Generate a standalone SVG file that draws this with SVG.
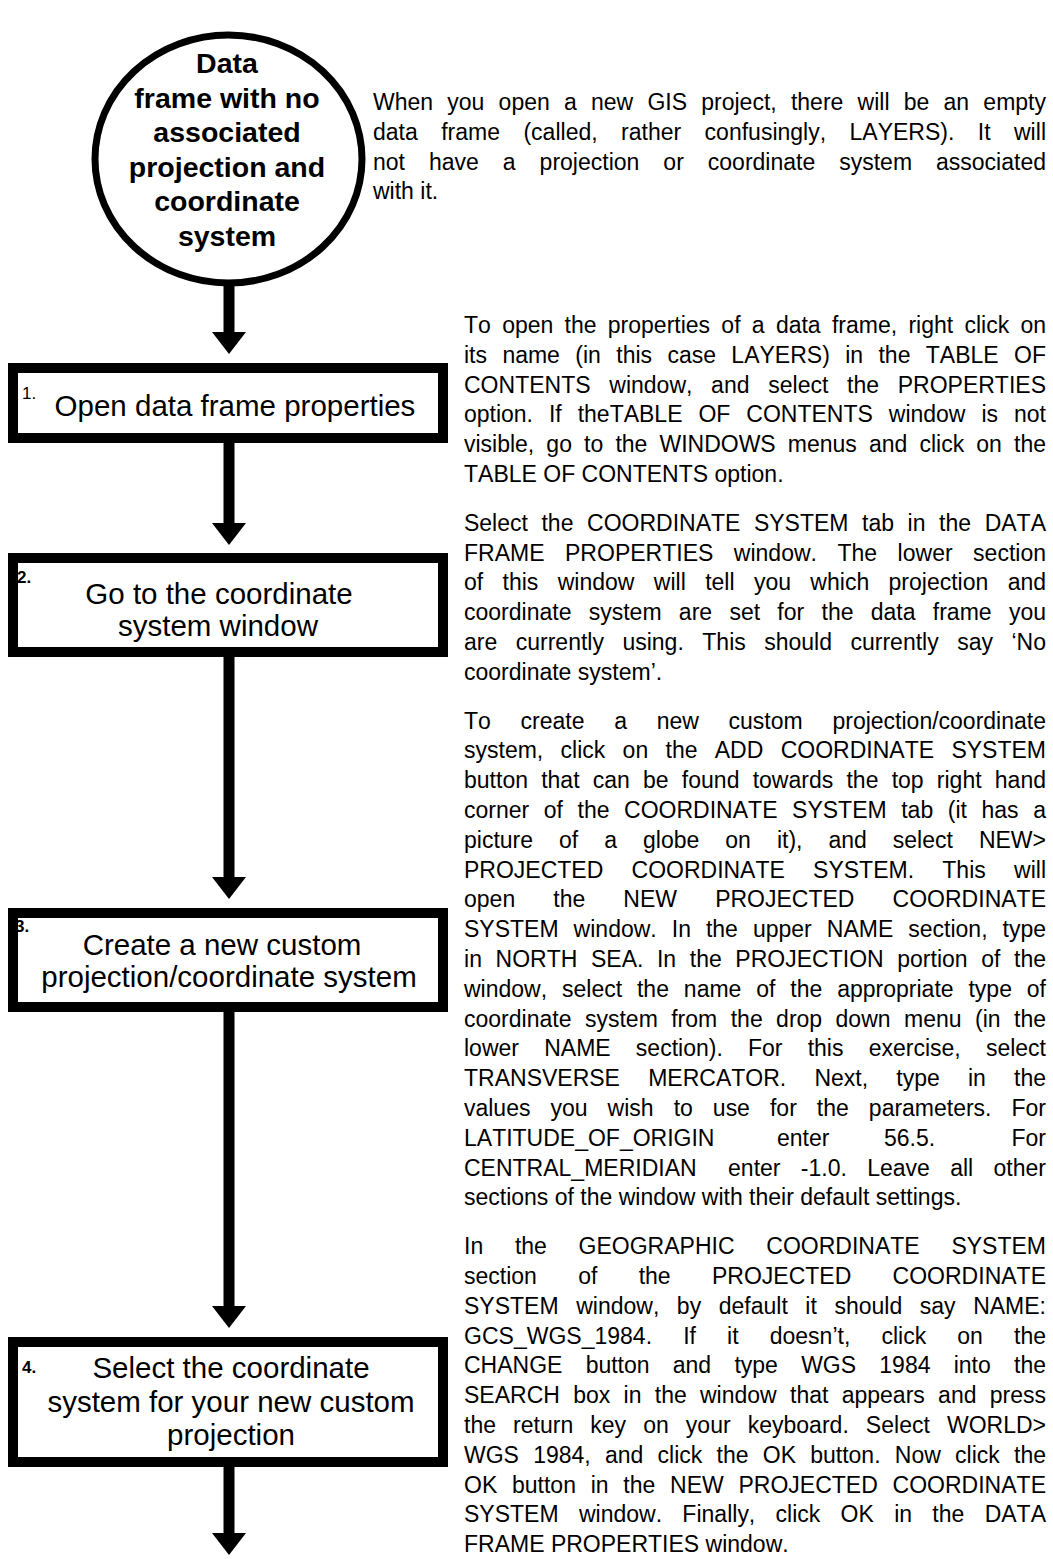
<svg xmlns="http://www.w3.org/2000/svg" width="1053" height="1559" viewBox="0 0 1053 1559">
<style>
text{font-family:"Liberation Sans",Arial,sans-serif;fill:#000;font-kerning:none}
.t{font-size:28.5px;font-weight:bold;text-anchor:middle}
.bx{font-size:29.5px;text-anchor:middle}
.n{font-size:17px;font-weight:bold}
.p{font-size:23px}
.shape{fill:#fff;stroke:#000}
.conn{stroke:#000;stroke-width:11;fill:none}
</style>
<defs>
<marker id="ah" markerUnits="userSpaceOnUse" markerWidth="22" markerHeight="34" viewBox="0 0 22 34" refX="0" refY="17" orient="auto">
<path d="M0,0 L22,17 L0,34 Z" fill="#000"/>
</marker>
</defs>
<rect width="1053" height="1559" fill="#fff"/>
<g id="connectors">
<line class="conn" x1="229" y1="283" x2="229" y2="332" marker-end="url(#ah)"/>
<line class="conn" x1="229" y1="443" x2="229" y2="523" marker-end="url(#ah)"/>
<line class="conn" x1="229" y1="657" x2="229" y2="877" marker-end="url(#ah)"/>
<line class="conn" x1="229" y1="1012" x2="229" y2="1306" marker-end="url(#ah)"/>
<line class="conn" x1="229" y1="1467" x2="229" y2="1533" marker-end="url(#ah)"/>
</g>
<g id="node-start">
<ellipse class="shape" cx="228.5" cy="159" rx="133.5" ry="124" stroke-width="7"/>
<text class="t" x="227" y="73">Data</text>
<text class="t" x="227" y="107.5">frame with no</text>
<text class="t" x="227" y="142">associated</text>
<text class="t" x="227" y="176.5">projection and</text>
<text class="t" x="227" y="211">coordinate</text>
<text class="t" x="227" y="245.5">system</text>
</g>
<g id="node-1">
<rect class="shape" x="13" y="368" width="430" height="70" stroke-width="10"/>
<text x="22" y="399" style="font-size:17px">1.</text>
<text class="bx" x="235" y="416">Open data frame properties</text>
</g>
<g id="node-2">
<rect class="shape" x="13" y="558" width="430" height="94" stroke-width="10"/>
<text class="n" x="17" y="583">2.</text>
<text class="bx" x="219" y="604">Go to the coordinate</text>
<text class="bx" x="218" y="636">system window</text>
</g>
<g id="node-3">
<rect class="shape" x="13" y="913" width="430" height="94" stroke-width="10"/>
<text class="n" x="15" y="932">3.</text>
<text class="bx" x="222" y="955">Create a new custom</text>
<text class="bx" x="229" y="987">projection/coordinate system</text>
</g>
<g id="node-4">
<rect class="shape" x="13" y="1342" width="430" height="120" stroke-width="10"/>
<text class="n" x="22" y="1373">4.</text>
<text class="bx" x="231" y="1378">Select the coordinate</text>
<text class="bx" x="231" y="1412">system for your new custom</text>
<text class="bx" x="231" y="1445">projection</text>
</g>
<g id="notes">
<text class="p" x="373" y="110" word-spacing="7.8" textLength="673" lengthAdjust="spacing">When you open a new GIS project, there will be an empty</text>
<text class="p" x="373" y="139.8" word-spacing="17" textLength="673" lengthAdjust="spacing">data frame (called, rather confusingly, LAYERS). It will</text>
<text class="p" x="373" y="169.6" word-spacing="17.6" textLength="673" lengthAdjust="spacing">not have a projection or coordinate system associated</text>
<text class="p" x="373" y="199.4">with it.</text>

<text class="p" x="464" y="333" word-spacing="4.9" textLength="582" lengthAdjust="spacing">To open the properties of a data frame, right click on</text>
<text class="p" x="464" y="362.8" word-spacing="9" textLength="582" lengthAdjust="spacing">its name (in this case LAYERS) in the TABLE OF</text>
<text class="p" x="464" y="392.6" word-spacing="12.3" textLength="582" lengthAdjust="spacing">CONTENTS window, and select the PROPERTIES</text>
<text class="p" x="464" y="422.4" word-spacing="9.6" textLength="582" lengthAdjust="spacing">option. If theTABLE OF CONTENTS window is not</text>
<text class="p" x="464" y="452.2" word-spacing="5.8" textLength="582" lengthAdjust="spacing">visible, go to the WINDOWS menus and click on the</text>
<text class="p" x="464" y="482">TABLE OF CONTENTS option.</text>

<text class="p" x="464" y="530.8" word-spacing="7.2" textLength="582" lengthAdjust="spacing">Select the COORDINATE SYSTEM tab in the DATA</text>
<text class="p" x="464" y="560.6" word-spacing="14.1" textLength="582" lengthAdjust="spacing">FRAME PROPERTIES window. The lower section</text>
<text class="p" x="464" y="590.4" word-spacing="13" textLength="582" lengthAdjust="spacing">of this window will tell you which projection and</text>
<text class="p" x="464" y="620.2" word-spacing="10.9" textLength="582" lengthAdjust="spacing">coordinate system are set for the data frame you</text>
<text class="p" x="464" y="650" word-spacing="12.1" textLength="582" lengthAdjust="spacing">are currently using. This should currently say ‘No</text>
<text class="p" x="464" y="679.8">coordinate system’.</text>

<text class="p" x="464" y="728.6" word-spacing="23.3" textLength="582" lengthAdjust="spacing">To create a new custom projection/coordinate</text>
<text class="p" x="464" y="758.4" word-spacing="10.9" textLength="582" lengthAdjust="spacing">system, click on the ADD COORDINATE SYSTEM</text>
<text class="p" x="464" y="788.2" word-spacing="6.8" textLength="582" lengthAdjust="spacing">button that can be found towards the top right hand</text>
<text class="p" x="464" y="818" word-spacing="8.2" textLength="582" lengthAdjust="spacing">corner of the COORDINATE SYSTEM tab (it has a</text>
<text class="p" x="464" y="847.8" word-spacing="19.6" textLength="582" lengthAdjust="spacing">picture of a globe on it), and select NEW&gt;</text>
<text class="p" x="464" y="877.6" word-spacing="21.9" textLength="582" lengthAdjust="spacing">PROJECTED COORDINATE SYSTEM. This will</text>
<text class="p" x="464" y="907.4" word-spacing="31.7" textLength="582" lengthAdjust="spacing">open the NEW PROJECTED COORDINATE</text>
<text class="p" x="464" y="937.2" word-spacing="8.6" textLength="582" lengthAdjust="spacing">SYSTEM window. In the upper NAME section, type</text>
<text class="p" x="464" y="967" word-spacing="7.2" textLength="582" lengthAdjust="spacing">in NORTH SEA. In the PROJECTION portion of the</text>
<text class="p" x="464" y="996.8" word-spacing="8.5" textLength="582" lengthAdjust="spacing">window, select the name of the appropriate type of</text>
<text class="p" x="464" y="1026.6" word-spacing="7" textLength="582" lengthAdjust="spacing">coordinate system from the drop down menu (in the</text>
<text class="p" x="464" y="1056.4" word-spacing="18.8" textLength="582" lengthAdjust="spacing">lower NAME section). For this exercise, select</text>
<text class="p" x="464" y="1086.2" word-spacing="21.8" textLength="582" lengthAdjust="spacing">TRANSVERSE MERCATOR. Next, type in the</text>
<text class="p" x="464" y="1116" word-spacing="13.7" textLength="582" lengthAdjust="spacing">values you wish to use for the parameters. For</text>
<text class="p" x="464" y="1145.8">LATITUDE_OF_ORIGIN</text>
<text class="p" x="777" y="1145.8">enter</text>
<text class="p" x="884" y="1145.8">56.5.</text>
<text class="p" x="1046" y="1145.8" text-anchor="end">For</text>
<text class="p" x="464" y="1175.6">CENTRAL_MERIDIAN</text>
<text class="p" x="728" y="1175.6" word-spacing="13.8" textLength="318" lengthAdjust="spacing">enter -1.0. Leave all other</text>
<text class="p" x="464" y="1205.4">sections of the window with their default settings.</text>

<text class="p" x="464" y="1254.2" word-spacing="25.3" textLength="582" lengthAdjust="spacing">In the GEOGRAPHIC COORDINATE SYSTEM</text>
<text class="p" x="464" y="1284" word-spacing="34.9" textLength="582" lengthAdjust="spacing">section of the PROJECTED COORDINATE</text>
<text class="p" x="464" y="1313.8" word-spacing="11.2" textLength="582" lengthAdjust="spacing">SYSTEM window, by default it should say NAME:</text>
<text class="p" x="464" y="1343.6" word-spacing="24.7" textLength="582" lengthAdjust="spacing">GCS_WGS_1984. If it doesn’t, click on the</text>
<text class="p" x="464" y="1373.4" word-spacing="16.9" textLength="582" lengthAdjust="spacing">CHANGE button and type WGS 1984 into the</text>
<text class="p" x="464" y="1403.2" word-spacing="6.9" textLength="582" lengthAdjust="spacing">SEARCH box in the window that appears and press</text>
<text class="p" x="464" y="1433" word-spacing="10.7" textLength="582" lengthAdjust="spacing">the return key on your keyboard. Select WORLD&gt;</text>
<text class="p" x="464" y="1462.8" word-spacing="7.9" textLength="582" lengthAdjust="spacing">WGS 1984, and click the OK button. Now click the</text>
<text class="p" x="464" y="1492.6" word-spacing="8.3" textLength="582" lengthAdjust="spacing">OK button in the NEW PROJECTED COORDINATE</text>
<text class="p" x="464" y="1522.4" word-spacing="13.9" textLength="582" lengthAdjust="spacing">SYSTEM window. Finally, click OK in the DATA</text>
<text class="p" x="464" y="1552.2">FRAME PROPERTIES window.</text>
</g>
</svg>
